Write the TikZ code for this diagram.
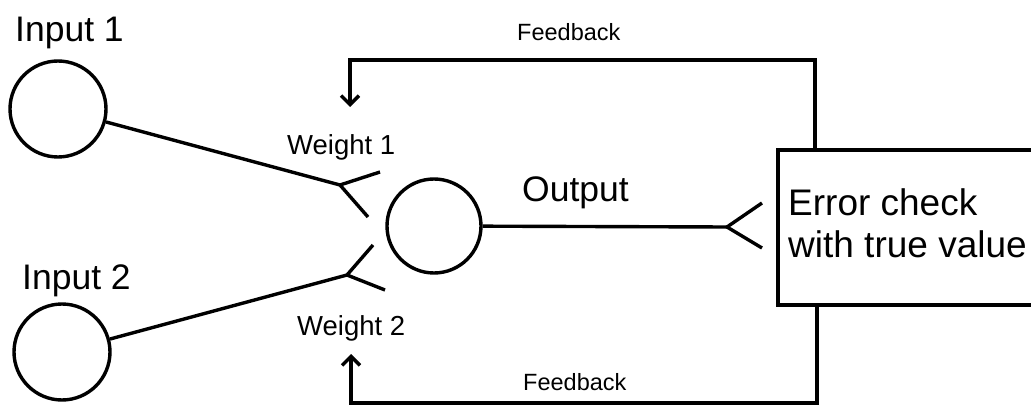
\documentclass[tikz,border=0pt]{standalone}
\usepackage{fontspec}
\setmainfont{Liberation Sans}
\usetikzlibrary{arrows.meta}
\tikzset{
  neuron/.style={draw, circle, line width=3.4pt, inner sep=0pt},
  wire/.style={line width=3.4pt},
  fb/.style={line width=3.4pt, -{Straight Barb[length=9pt,width=18pt,line width=3.4pt]}},
  big/.style={font=\fontsize{35.5}{42}\selectfont, inner sep=0pt, anchor=base west},
  box/.style={font=\fontsize{37}{42}\selectfont, inner sep=0pt, anchor=base west},
  mid/.style={font=\fontsize{27.5}{30}\selectfont, inner sep=0pt, anchor=base west},
  small/.style={font=\fontsize{23.5}{28}\selectfont, inner sep=0pt, anchor=base west},
}
\begin{document}
\begin{tikzpicture}[x=1pt,y=-1pt]
\useasboundingbox (0,0) rectangle (1031,406);
\clip (0,0) rectangle (1031,406);
% nodes
\node[neuron, minimum size=96pt] (in1) at (58,109) {};
\node[neuron, minimum size=96pt] (in2) at (62,352) {};
\node[neuron, minimum size=94pt] (out) at (434,226) {};
\node[draw, line width=3.4pt, minimum width=272pt, minimum height=155pt] (err) at (914,227.5) {};
% labels
\node[big] (lin1) at (15,42) {Input 1};
\node[big] (lin2) at (22,290) {Input 2};
\node[mid] (lw1) at (287,155) {Weight 1};
\node[mid] (lw2) at (297,335) {Weight 2};
\node[big] (lout) at (522,202) {Output};
\node[box] (le1) at (788,216) {Error check};
\node[box] (le2) at (788,258) {with true value};
\node[small] (lfb1) at (517,41) {Feedback};
\node[small] (lfb2) at (523,390) {Feedback};
% synapse forks
\coordinate (j1) at (340,185);
\coordinate (j1a) at (380,172);
\coordinate (j1b) at (368,217);
\coordinate (j2) at (347,275);
\coordinate (j2a) at (373,245);
\coordinate (j2b) at (385,290);
\coordinate (j3) at (727,227);
\coordinate (j3a) at (762,203);
\coordinate (j3b) at (762,248);
\draw[wire] (in1) -- (j1);
\draw[wire] (j1a) -- (j1) -- (j1b);
\draw[wire] (in2) -- (j2);
\draw[wire] (j2a) -- (j2) -- (j2b);
\draw[wire] (out) -- (j3);
\draw[wire] (j3a) -- (j3) -- (j3b);
% feedback loops
\coordinate (ft) at (815,150);
\coordinate (fbt) at (350,60);
\coordinate (at) at (350,107);
\coordinate (fbs) at (817,305);
\coordinate (fbb) at (351,403);
\coordinate (ab) at (351,354);
\draw[fb] (ft) |- (fbt) -- (at);
\draw[fb] (fbs) |- (fbb) -- (ab);
\end{tikzpicture}
\end{document}
